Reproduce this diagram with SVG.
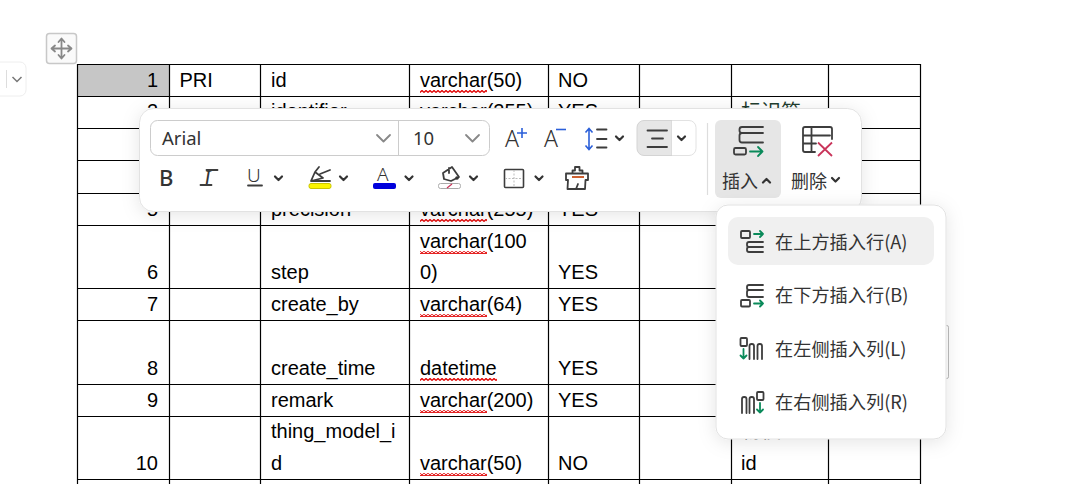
<svg xmlns="http://www.w3.org/2000/svg" width="1074" height="484" viewBox="0 0 1074 484">
<style>
.t{font:20px "Liberation Sans","Noto Sans CJK SC",sans-serif;fill:#000}
.n{text-anchor:end}
.g{stroke:#000;stroke-width:1.2;fill:none}
.u{font:18.200px "Noto Sans CJK SC","Noto Sans",sans-serif;fill:#333}
.l{font:18px "Noto Sans CJK SC","Noto Sans",sans-serif;fill:#333}
.i{fill:none;stroke:#3d3d3d;stroke-width:1.800;stroke-linecap:round;stroke-linejoin:round}
.c{fill:none;stroke:#333;stroke-width:2.200;stroke-linecap:round;stroke-linejoin:round}
.v{fill:none;stroke:#888;stroke-width:1.800;stroke-linecap:round;stroke-linejoin:round}
.ar{fill:none;stroke:#0a8a5a;stroke-width:1.800;stroke-linecap:round;stroke-linejoin:round}
.panel{fill:#fff;stroke:#e2e2e2;stroke-width:1;filter:url(#sh)}
</style>
<defs>
<filter id="sh" x="-10%" y="-20%" width="120%" height="140%"><feDropShadow dx="0" dy="3" stdDeviation="9" flood-color="#000" flood-opacity="0.1"/></filter>
<pattern id="sq" width="4" height="3" patternUnits="userSpaceOnUse"><path d="M0 2.500L2 .5L4 2.500" fill="none" stroke="#e00000" stroke-width="1.300"/></pattern>
</defs>
<rect width="1074" height="484" fill="#fff"/>
<g id="side-dropdown">
<rect x="-10" y="62" width="36" height="34" rx="6" fill="#fff" stroke="#eee"/>
<path d="M6.500 70V88" stroke="#ddd"/>
<path d="M12.500 77L17 81.500L21.500 77" fill="none" stroke="#777" stroke-width="1.500"/>
</g>
<g id="move-handle">
<rect x="46.500" y="33.500" width="30" height="30" rx="3" fill="#fafafa" stroke="#c8c8c8" stroke-width="1.500"/>
<path class="v" d="M61.500 39V58M52 48.500H71M58.500 42L61.500 38.500L64.500 42M58.500 55L61.500 58.500L64.500 55M55 45.500L51.500 48.500L55 51.500M68 45.500L71.500 48.500L68 51.500"/>
</g>
<g id="table">
<rect x="78" y="65" width="92" height="32" fill="#c6c6c6"/>
<path class="g" d="M77.500 64.500H920.500M77.500 96.500H920.500M77.500 128.500H920.500M77.500 160.500H920.500M77.500 193.500H920.500M77.500 225.500H920.500M77.500 288.500H920.500M77.500 320.500H920.500M77.500 384.500H920.500M77.500 416.500H920.500M77.500 479.500H920.500"/>
<path class="g" d="M77.500 64V484M169.500 64V484M260.500 64V484M409.500 64V484M548.500 64V484M639.500 64V484M731.500 64V484M828.500 64V484M920.500 64V484"/>
<g id="row1"><text class="t n" x="158" y="87">1</text><text class="t" x="179.500" y="87">PRI</text><text class="t" x="271" y="87">id</text><text class="t" x="420" y="87">varchar(50)</text><text class="t" x="558" y="87">NO</text></g>
<g id="row2"><text class="t n" x="158" y="118">2</text><text class="t" x="271" y="118">identifier</text><text class="t" x="420" y="118">varchar(255)</text><text class="t" x="558" y="118">YES</text><text class="t" x="741" y="119" style="fill:#1f3d2f">标识符</text></g>
<g id="row5"><text class="t n" x="158" y="216">5</text><text class="t" x="271" y="216">precision</text><text class="t" x="420" y="216">varchar(255)</text><text class="t" x="558" y="216">YES</text></g>
<g id="row6"><text class="t n" x="158" y="279">6</text><text class="t" x="271" y="279">step</text><text class="t" x="420" y="248">varchar(100</text><text class="t" x="420" y="279">0)</text><text class="t" x="558" y="279">YES</text></g>
<g id="row7"><text class="t n" x="158" y="311">7</text><text class="t" x="271" y="311">create_by</text><text class="t" x="420" y="311">varchar(64)</text><text class="t" x="558" y="311">YES</text></g>
<g id="row8"><text class="t n" x="158" y="375">8</text><text class="t" x="271" y="375">create_time</text><text class="t" x="420" y="375">datetime</text><text class="t" x="558" y="375">YES</text></g>
<g id="row9"><text class="t n" x="158" y="407">9</text><text class="t" x="271" y="407">remark</text><text class="t" x="420" y="407">varchar(200)</text><text class="t" x="558" y="407">YES</text></g>
<g id="row10"><text class="t n" x="158" y="470">10</text><text class="t" x="271" y="438">thing_model_i</text><text class="t" x="271" y="470">d</text><text class="t" x="420" y="470">varchar(50)</text><text class="t" x="558" y="470">NO</text><text class="t" x="741" y="438">物模型</text><text class="t" x="741" y="470">id</text></g>
<g id="spell" fill="url(#sq)">
<rect x="420" y="90" width="67" height="3"/><rect x="420" y="219" width="67" height="3"/><rect x="420" y="251" width="67" height="3"/><rect x="420" y="314" width="67" height="3"/><rect x="420" y="378" width="77" height="3"/><rect x="420" y="410" width="67" height="3"/><rect x="420" y="473" width="67" height="3"/>
</g>
</g>
<g id="toolbar">
<rect class="panel" x="139.500" y="108.500" width="722" height="103" rx="14"/>
<g id="font-box">
<rect x="150.500" y="120.500" width="339" height="35" rx="7" fill="#fff" stroke="#ccc"/>
<path d="M398.500 121V155" stroke="#ccc"/>
<text x="162" y="145" font-family="Noto Sans,sans-serif" font-size="18.500" fill="#333">Arial</text>
<text x="413" y="145" font-family="Noto Sans,sans-serif" font-size="18.500" fill="#333">10</text>
<path class="v" d="M377 135L383.500 141.500L390 135M466 135L472.500 141.500L479 135"/>
</g>
<g id="font-grow"><text x="505" y="147" font-family="Noto Sans,sans-serif" font-weight="300" font-size="23" fill="#333">A</text><path d="M517 133H527M522 128V138" stroke="#2b5fd9" stroke-width="1.600" fill="none"/></g>
<g id="font-shrink"><text x="544" y="147" font-family="Noto Sans,sans-serif" font-weight="300" font-size="23" fill="#333">A</text><path d="M556 129.500H566" stroke="#2b5fd9" stroke-width="1.600" fill="none"/></g>
<g id="line-height"><path d="M589 129V149M585.500 132.500L589 128.500L592.500 132.500M585.500 145.500L589 149.500L592.500 145.500" fill="none" stroke="#2b5fd9" stroke-width="1.600"/><path class="i" d="M597 129.500H606.500M597 139H606.500M597 147.500H606.500"/><path class="c" d="M616 136.500L619.500 140L623 136.500"/></g>
<g id="align">
<path d="M672 120.500H644a7 7 0 0 0-7 7V148.500a7 7 0 0 0 7 7H672Z" fill="#e6e6e6" stroke="#d4d4d4"/>
<path d="M672 120.500H689a7 7 0 0 1 7 7V148.500a7 7 0 0 1-7 7H672" fill="#fff" stroke="#e2e2e2"/>
<path class="i" d="M647.500 130.500H667M652 138.500H663M647.500 147H667"/>
<path class="c" d="M678 136.500L681.500 140L685 136.500"/>
</g>
<path id="toolbar-sep" d="M707.500 123V195" stroke="#ddd" stroke-width="1.200"/>
<g id="insert-button">
<rect x="715" y="120" width="66" height="78" rx="6" fill="#e6e6e6"/>
<path class="i" d="M763 127H742a2.500 2.500 0 0 0-2.500 2.500V130.500a2.500 2.500 0 0 0 2.500 2.500H763M763 133H742M742 133a2.500 2.500 0 0 0-2.500 2.500V140a2.500 2.500 0 0 0 2.500 2.500H763"/>
<rect class="i" x="734" y="148" width="12" height="6.500" rx="1.500"/>
<path class="ar" d="M750 151.500H762.500M758 147L762.500 151.500L758 156"/>
<text class="l" x="722" y="188">插入</text>
<path class="c" d="M763 182.500L766.500 179L770 182.500"/>
</g>
<g id="delete-button">
<path class="i" d="M832 139V129a2 2 0 0 0-2-2H805a2 2 0 0 0-2 2V150a2 2 0 0 0 2 2H815M803 135.500H830M803 143.500H816M811.500 127V152"/>
<path d="M818 142.500L832 156M832 142.500L818 156" fill="none" stroke="#c9345a" stroke-width="1.800"/>
<text class="l" x="791" y="188">删除</text>
<path class="c" d="M832 178L835.500 181.500L839 178"/>
</g>
<g id="bold"><text x="159" y="186" font-family="Noto Sans,sans-serif" font-weight="500" font-size="22" fill="#333">B</text></g>
<g id="italic"><text x="204" y="185" font-family="Liberation Serif,serif" font-style="italic" font-size="20" fill="#333">I</text><path class="i" d="M200.500 185H211.500M206.500 170H217.500"/></g>
<g id="underline"><text x="247" y="182" font-family="Noto Sans,sans-serif" font-weight="300" font-size="19" fill="#333">U</text><path class="i" d="M248 185.500H262"/><path class="c" d="M275 176.500L278.500 180L282 176.500"/></g>
<g id="highlight"><path class="i" d="M311 181L315 172L319 167M311 181H330M315 172L323 178L311 181M320 174L330 170"/><rect x="309" y="183.500" width="22" height="5" rx="2" fill="#fbf400" stroke="#c9c400"/><path class="c" d="M340 176.500L343.500 180L347 176.500"/></g>
<g id="font-color"><text x="377" y="181" font-family="Noto Sans,sans-serif" font-weight="300" font-size="19" fill="#333">A</text><rect x="373" y="183" width="23" height="6" rx="2" fill="#0000dc"/><path class="c" d="M405.500 176.500L409 180L412.500 176.500"/></g>
<g id="fill-color"><path class="i" d="M443 173L452 167L459 177L451 181L444 179ZM449 168V173"/><circle cx="457" cy="178" r="1.800" fill="#333"/><rect x="438.500" y="183.500" width="22" height="5" rx="2" fill="#fff" stroke="#aaa"/><path d="M447 188L452 184" stroke="#c9345a" stroke-width="1.200"/><path class="c" d="M470 176.500L473.500 180L477 176.500"/></g>
<g id="borders"><rect x="504.500" y="169.500" width="19" height="18" rx="1" fill="none" stroke="#3d3d3d" stroke-width="1.600"/><path d="M514 170V187M505 178.500H523" stroke="#bbb" stroke-dasharray="2 1.500"/><path class="c" d="M535.500 176.500L539 180L542.500 176.500"/></g>
<g id="clear-format"><path class="i" d="M566 173.500H588V180H585.500L585 189H567.500L568 180H566ZM572.500 173.500V170.500H575V167H579.500V170.500H582.500V173.500M576 189L578 184"/><path d="M572 177H584" stroke="#c9501a" stroke-width="1.800"/></g>
</g>
<rect id="scroll-thumb" x="945" y="325.500" width="3.500" height="53" rx="1.700" fill="#fff" stroke="#bbb"/>
<g id="insert-menu">
<rect class="panel" x="716" y="205" width="230" height="234" rx="12"/>
<rect x="728" y="217" width="206" height="48" rx="10" fill="#f0f0f0"/>
<g id="menu-above">
<rect class="i" x="741" y="231" width="9" height="7" rx="1"/>
<path class="ar" d="M754 234H763M760 231L763 234L760 237"/>
<path class="i" d="M763 242H749a2 2 0 0 0-2 2V245a2 2 0 0 0 2 2H763M763 247H749a2 2 0 0 0-2 2V250a2 2 0 0 0 2 2H763"/>
<text class="u" x="775" y="249">在上方插入行(A)</text>
</g>
<g id="menu-below">
<path class="i" d="M763 285H749a2 2 0 0 0-2 2V288a2 2 0 0 0 2 2H763M763 290H749a2 2 0 0 0-2 2V295a2 2 0 0 0 2 2H763"/>
<rect class="i" x="741" y="300" width="9" height="6.500" rx="1"/>
<path class="ar" d="M754 303.500H763M760 300.500L763 303.500L760 306.500"/>
<text class="u" x="775" y="302">在下方插入行(B)</text>
</g>
<g id="menu-left">
<rect class="i" x="740.500" y="338" width="6.500" height="8" rx="1"/>
<path class="ar" d="M743.500 349V358.500M740.500 355.500L743.500 358.500L746.500 355.500"/>
<path class="i" d="M749.500 359V346a2 2 0 0 1 2-2H752a2 2 0 0 1 2 2V359M757.500 359V346a2 2 0 0 1 2-2H760a2 2 0 0 1 2 2V359"/>
<text class="u" x="775" y="356">在左侧插入列(L)</text>
</g>
<g id="menu-right">
<path class="i" d="M742 413V399a2 2 0 0 1 2-2H744.500a2 2 0 0 1 2 2V413M749.500 413V399a2 2 0 0 1 2-2H752a2 2 0 0 1 2 2V413"/>
<rect class="i" x="757" y="392" width="6.500" height="8" rx="1"/>
<path class="ar" d="M760 403V412.500M757 409.500L760 412.500L763 409.500"/>
<text class="u" x="775" y="409">在右侧插入列(R)</text>
</g>
</g>
</svg>
